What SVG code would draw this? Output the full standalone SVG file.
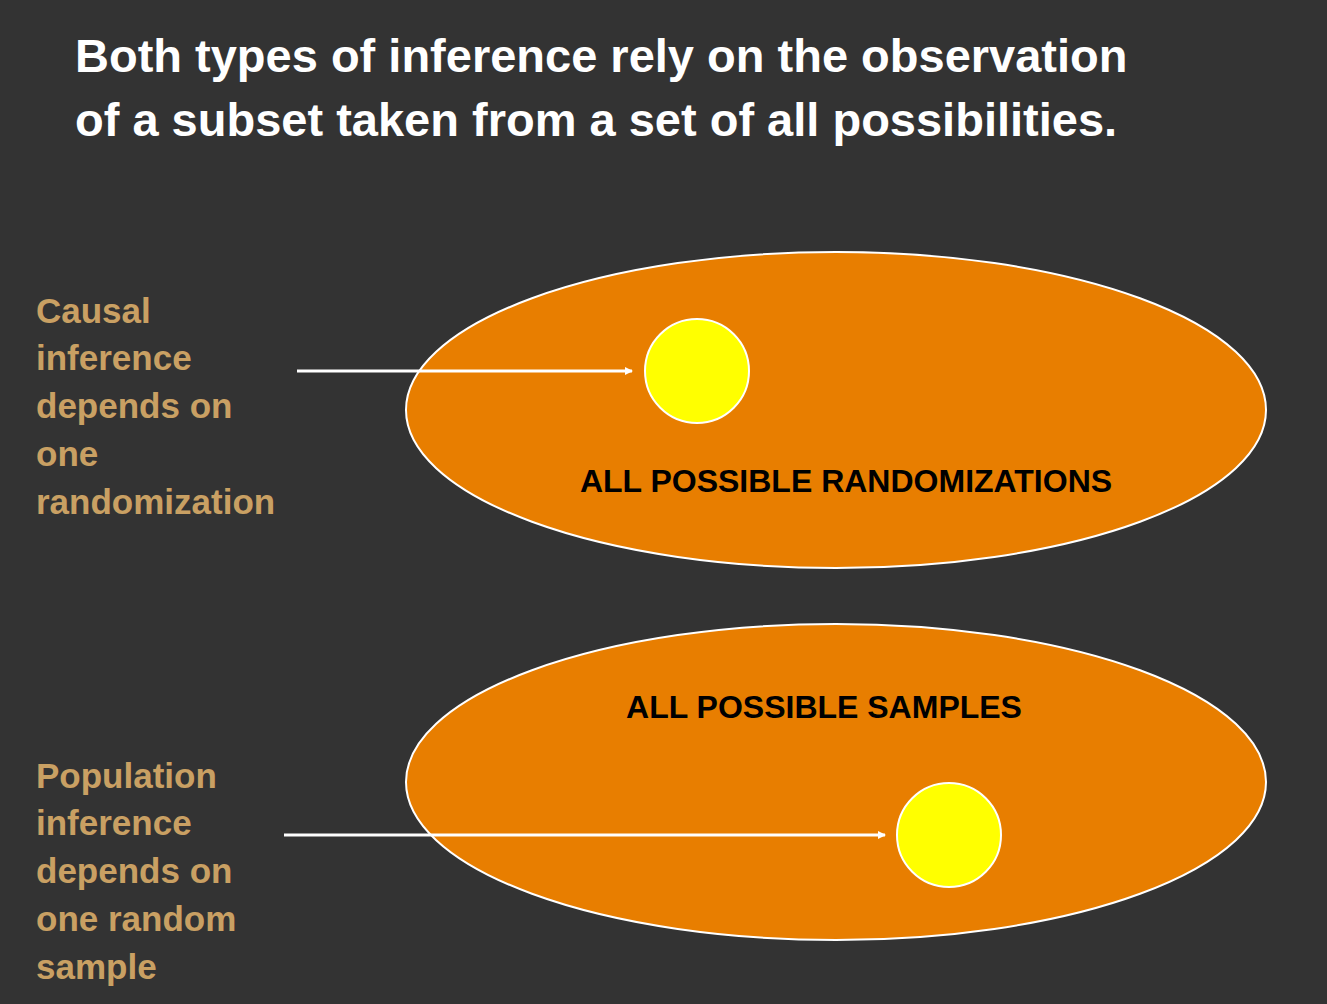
<svg xmlns="http://www.w3.org/2000/svg" width="1327" height="1004" viewBox="0 0 1327 1004">
<style>
.t{font-family:"Liberation Sans",Arial,sans-serif;font-weight:bold}
.title{fill:#fff;font-size:47px}
.lab{fill:#C9A063;font-size:35px}
.in{fill:#000;font-size:32px}
.ell{fill:#E87E00;stroke:#fff;stroke-width:2}
.dot{fill:#FFFF00;stroke:#fff;stroke-width:2}
.arr{stroke:#fff;stroke-width:3;marker-end:url(#ah)}
</style>
<defs><marker id="ah" markerWidth="8" markerHeight="8" refX="7" refY="4" orient="auto" markerUnits="userSpaceOnUse"><path d="M0,0 L8,4 L0,8 Z" fill="#fff"/></marker></defs>
<rect width="1327" height="1004" fill="#333"/>
<g id="title" class="t title"><text x="75" y="72">Both types of inference rely on the observation</text><text x="75" y="136">of a subset taken from a set of all possibilities.</text></g>
<g id="rand"><ellipse class="ell" cx="836" cy="410" rx="430" ry="158"/><text class="t in" x="846" y="492" text-anchor="middle">ALL POSSIBLE RANDOMIZATIONS</text></g>
<g id="rand-dot"><circle class="dot" cx="697" cy="371" r="52"/></g>
<g id="samp"><ellipse class="ell" cx="836" cy="782" rx="430" ry="158"/><text class="t in" x="824" y="718" text-anchor="middle">ALL POSSIBLE SAMPLES</text></g>
<g id="samp-dot"><circle class="dot" cx="949" cy="835" r="52"/></g>
<g id="causal" class="t lab"><text x="36" y="323">Causal</text><text x="36" y="370">inference</text><text x="36" y="418">depends on</text><text x="36" y="466">one</text><text x="36" y="514">randomization</text></g>
<g id="pop" class="t lab"><text x="36" y="788">Population</text><text x="36" y="835">inference</text><text x="36" y="883">depends on</text><text x="36" y="931">one random</text><text x="36" y="979">sample</text></g>
<g id="connectors"><line class="arr" x1="297" y1="371" x2="632" y2="371"/><line class="arr" x1="284" y1="835" x2="885" y2="835"/></g>
</svg>
